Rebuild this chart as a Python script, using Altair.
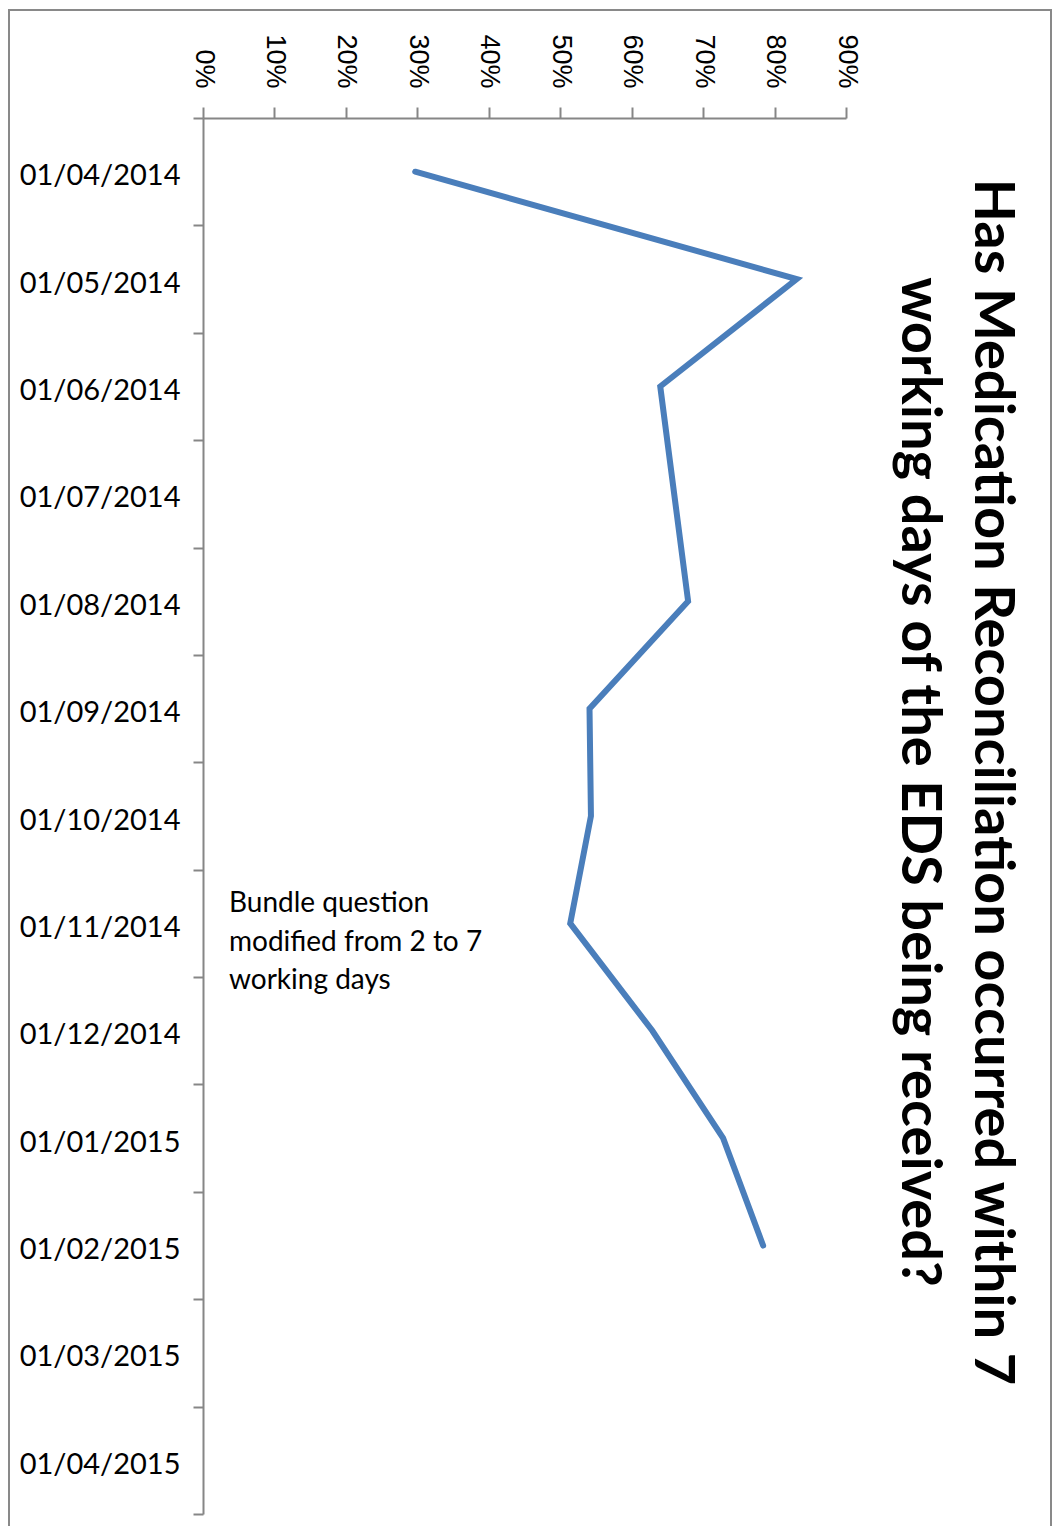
import altair as alt
import pandas as pd

# Category axis (months) and series values (fraction)
months = ["01/04/2014", "01/05/2014", "01/06/2014", "01/07/2014", "01/08/2014",
          "01/09/2014", "01/10/2014", "01/11/2014", "01/12/2014", "01/01/2015",
          "01/02/2015", "01/03/2015", "01/04/2015"]
values = [0.297, 0.831, 0.640, None, 0.679, 0.541, 0.543, 0.514, 0.629, 0.728, 0.784, None, None]
pct_ticks = [0, 0.1, 0.2, 0.3, 0.4, 0.5, 0.6, 0.7, 0.8, 0.9]

title_lines = ["Has Medication Reconciliation occurred within 7",
               "working days of the EDS being received?"]
note_lines = ["Bundle question", "modified from 2 to 7", "working days"]

df = pd.DataFrame({"month": months, "value": values}).dropna()

W, H = 643, 1396
GRAY = "#868686"

x_enc = alt.X("value:Q",
              scale=alt.Scale(domain=[0, 0.9], nice=False, zero=True),
              axis=alt.Axis(orient="top", values=pct_ticks, format=".0%", title=None,
                            labelAngle=90, labelFont="Liberation Sans", labelFontSize=27,
                            labelColor="#000000", labelPadding=19, tickSize=11,
                            tickColor=GRAY, tickWidth=2, domainColor=GRAY, domainWidth=2,
                            grid=False, labelOverlap=False))
y_enc = alt.Y("month:N",
              sort=months,
              scale=alt.Scale(type="band", domain=months, paddingInner=0, paddingOuter=0),
              bandPosition=0.5,
              axis=alt.Axis(orient="left", title=None, tickBand="extent",
                            labelFont="Lato", labelFontSize=29, labelColor="#000000",
                            labelPadding=13, labelOffset=4, tickSize=10, tickColor=GRAY,
                            tickWidth=2, domainColor=GRAY, domainWidth=2, grid=False,
                            labelOverlap=False))

line = alt.Chart(df).mark_line(color="#4a7ebb", strokeWidth=6, strokeCap="round",
                               strokeJoin="miter").encode(x=x_enc, y=y_enc)

note = alt.Chart(pd.DataFrame({"t": [note_lines]})).mark_text(
    align="left", baseline="alphabetic", font="Lato", fontSize=28,
    lineHeight=38.5, color="#000000"
).encode(x=alt.value(26), y=alt.value(794), text="t")

title = alt.Chart(pd.DataFrame({"t": [title_lines]})).mark_text(
    align="center", baseline="alphabetic", angle=90, font="Lato", fontSize=56,
    fontWeight="bold", lineHeight=73, color="#000000"
).encode(x=alt.value(772), y=alt.value(664), text="t")

border = alt.Chart(pd.DataFrame({"a": [0]})).mark_rect(
    filled=False, stroke="#898989", strokeWidth=2
).encode(x=alt.value(-194), x2=alt.value(848), y=alt.value(-108), y2=alt.value(1460))

chart = alt.layer(border, line, note, title).properties(
    width=W, height=H,
    autosize=alt.AutoSizeParams(type="none"),
    padding={"left": 195, "top": 110, "right": 207, "bottom": 12},
).configure(background="white").configure_view(stroke=None)

chart.save("out.html", embed_options={"renderer": "svg", "actions": False})
